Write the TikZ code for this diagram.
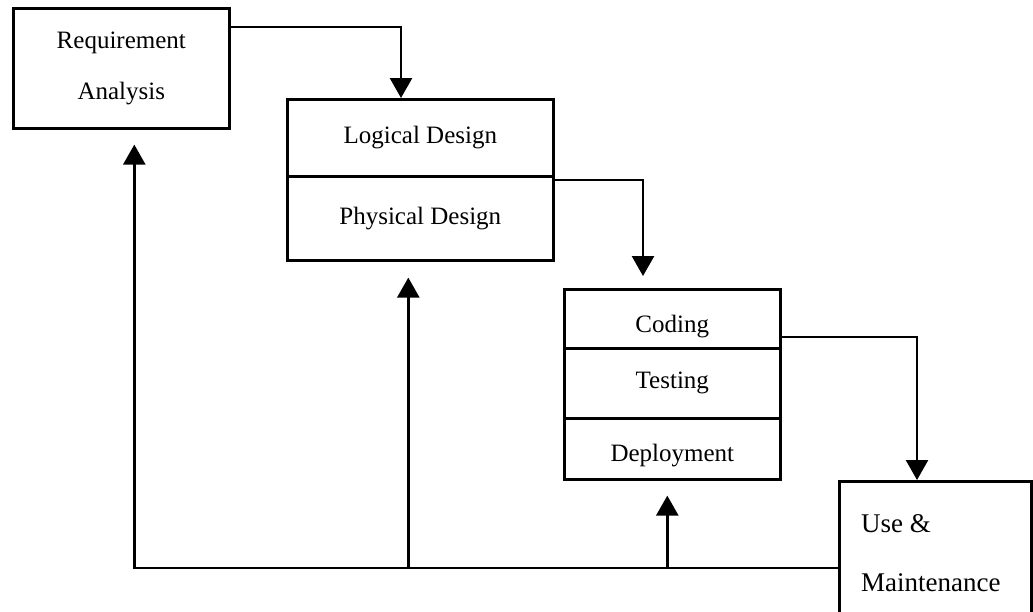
\documentclass[tikz,border=0pt]{standalone}
\usepackage{fontspec}
\setmainfont{Liberation Serif}
\usetikzlibrary{arrows.meta,calc}
\tikzset{
  box/.style={draw, line width=2.6pt, rectangle, inner sep=0pt, anchor=north west, font=\fontsize{25}{51}\selectfont, align=center},
  conn/.style={line width=2.6pt},
  arr/.style={conn, -{Triangle[width=22pt,length=20pt]}},
}
\begin{document}
\begin{tikzpicture}[x=1pt,y=-1pt]
\clip (0,0) rectangle (1033,611);
\fill[white] (0,0) rectangle (1033,611);
% boxes
\node[box, minimum width=216pt, minimum height=120pt] (ra) at (12,7) {Requirement\\Analysis};
\node[box, minimum width=266pt, minimum height=77pt] (logical) at (286,98) {Logical Design};
\node[box, minimum width=266pt, minimum height=84pt] (physical) at (286,175) {Physical Design};
\node[box, minimum width=216pt, minimum height=59pt] (coding) at (563,288) {};
\node[box, minimum width=216pt, minimum height=70pt] (testing) at (563,347) {Testing};
\node[box, minimum width=216pt, minimum height=61pt] (deploy) at (563,417) {};
\node (codingtxt) at ([yshift=-8pt]coding.center) {\fontsize{25}{28}\selectfont Coding};
\node (deploytxt) at ([yshift=-7pt]deploy.center) {\fontsize{25}{28}\selectfont Deployment};
\node[box, minimum width=192pt, minimum height=170pt] (use) at (838,480) {};
\node[anchor=west, align=left, inner sep=0pt, font=\fontsize{27}{59}\selectfont] (usetxt) at (861,553) {Use \&\\Maintenance};
% forward connectors
\draw[arr] ([yshift=-20pt]ra.north east) -| ([xshift=115pt]logical.north west);
\draw[arr, shorten >=12pt] ([yshift=-5pt]physical.north east) -| ([xshift=80pt]coding.north west);
\draw[arr] ([yshift=-49pt]coding.north east) -| ([xshift=79pt]use.north west);
% feedback connectors
\coordinate (fb) at ([yshift=-88pt]use.north west);
\draw[arr, shorten >=15pt] (fb) -| ([xshift=13pt]ra.south);
\draw[arr, shorten >=16pt] ([xshift=-12pt]physical.south |- fb) -- ([xshift=-12pt]physical.south);
\draw[arr, shorten >=15pt] ([xshift=-5pt]deploy.south |- fb) -- ([xshift=-5pt]deploy.south);
\end{tikzpicture}
\end{document}
